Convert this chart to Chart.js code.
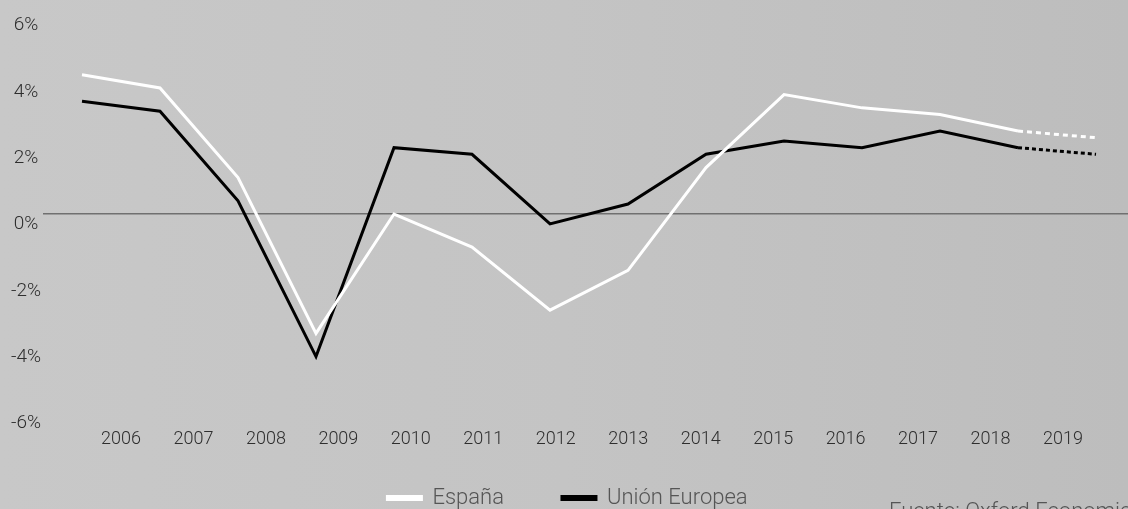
<!DOCTYPE html>
<html>
<head>
<meta charset="utf-8">
<script src="https://cdn.jsdelivr.net/npm/chart.js@4.4.1/dist/chart.umd.min.js"></script>
<style>
  html, body { margin: 0; padding: 0; width: 1128px; height: 509px; overflow: hidden; }
  body { background: linear-gradient(90deg, #c8c8c8 0%, #c4c4c4 50%, #bdbdbd 100%); position: relative; }
  canvas { position: absolute; left: 0; top: 0; }
  #fuente { position: absolute; left: 889px; top: 500px; font-family: Roboto, "Open Sans", sans-serif; font-weight: 300; font-size: 22px; line-height: 22px; color: #555; white-space: nowrap; }
</style>
</head>
<body>
<canvas id="c" width="1128" height="509"></canvas>
<div id="fuente">Fuente: Oxford Economics</div>
<script>
const years = ['2006','2007','2008','2009','2010','2011','2012','2013','2014','2015','2016','2017','2018','2019'];
const espana = [4.2, 3.8, 1.1, -3.6, 0.0, -1.0, -2.9, -1.7, 1.4, 3.6, 3.2, 3.0, 2.5, 2.3];
const unionEuropea = [3.4, 3.1, 0.4, -4.3, 2.0, 1.8, -0.3, 0.3, 1.8, 2.2, 2.0, 2.5, 2.0, 1.8];
const yTicks = [-6, -4, -2, 0, 2, 4, 6];
const forecastFrom = 12; // segment 2018 -> 2019 is a forecast

const toPoints = arr => arr.map((v, i) => ({ x: Number(years[i]), y: v }));
const FONT = 'Roboto, "Open Sans", sans-serif';

new Chart(document.getElementById('c'), {
  type: 'line',
  data: {
    datasets: [
      {
        label: 'España',
        data: toPoints(espana),
        borderColor: '#ffffff',
        backgroundColor: '#ffffff',
        borderWidth: 3,
        pointRadius: 0,
        tension: 0,
        segment: { borderDash: c => c.p0DataIndex >= forecastFrom ? [5, 4] : undefined }
      },
      {
        label: 'Unión Europea',
        data: toPoints(unionEuropea),
        borderColor: '#000000',
        backgroundColor: '#000000',
        borderWidth: 3,
        pointRadius: 0,
        tension: 0,
        segment: { borderDash: c => c.p0DataIndex >= forecastFrom ? [4, 3] : undefined }
      }
    ]
  },
  options: {
    responsive: false,
    animation: false,
    layout: { padding: { top: 15, left: 0, right: -7, bottom: -10 } },
    scales: {
      x: {
        type: 'linear',
        position: 'bottom',
        min: 2005.5,
        max: 2019.41,
        grid: { display: false, drawTicks: false },
        border: { display: false },
        ticks: { display: false },
        afterFit: axis => { axis.height = 16; }
      },
      xl: {
        type: 'linear',
        axis: 'x',
        position: { y: -6 },
        min: 2004.924,
        max: 2019.897,
        grid: { display: false, drawTicks: false },
        border: { display: false },
        afterBuildTicks: axis => { axis.ticks = years.map(y => ({ value: Number(y) })); },
        ticks: {
          padding: 16,
          maxRotation: 0,
          autoSkip: false,
          color: '#2e2e2e',
          font: { family: FONT, size: 18, weight: 300 },
          callback: v => String(v)
        }
      },
      y: {
        min: -6,
        max: 6,
        position: 'left',
        afterBuildTicks: axis => { axis.ticks = yTicks.map(v => ({ value: v })); },
        afterFit: axis => { axis.width = 43; },
        border: { display: false },
        grid: {
          drawTicks: false,
          color: c => (c.tick && c.tick.value === 0) ? '#707070' : 'rgba(0,0,0,0)',
          lineWidth: 1.5
        },
        ticks: {
          crossAlign: 'center',
          padding: 2,
          labelOffset: 10.5,
          color: '#2e2e2e',
          font: { family: FONT, size: 19, weight: 300 },
          callback: v => v + '%'
        }
      }
    },
    plugins: {
      legend: {
        position: 'bottom',
        labels: {
          boxWidth: 34,
          boxHeight: 3,
          padding: 58,
          color: '#555555',
          font: { family: FONT, size: 22, weight: 300 }
        }
      },
      tooltip: { enabled: false }
    }
  }
});
</script>
</body>
</html>
